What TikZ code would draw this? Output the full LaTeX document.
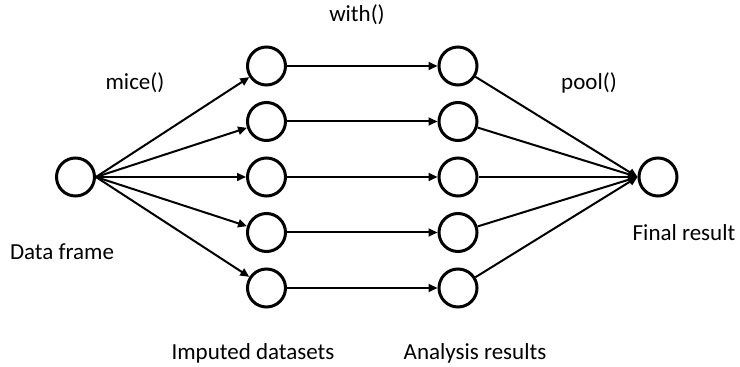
\documentclass[tikz,border=0pt]{standalone}
\usepackage{fontspec}
\setmainfont{Carlito}
\usetikzlibrary{arrows.meta}
\begin{document}
\begin{tikzpicture}[x=1pt,y=1pt,
  ring/.style={circle,draw=black,line width=3pt,minimum size=38pt,inner sep=0pt},
  lbl/.style={font=\fontsize{23}{27}\selectfont,inner sep=0pt},
  conn/.style={line width=2pt,-{Triangle[length=9pt,width=8pt]}},
  plain/.style={line width=2pt}]
\useasboundingbox (0,0) rectangle (740,367);
\node[ring] (df) at (75.5,190) {};
\foreach \i/\y in {1/301,2/245.5,3/190,4/134.5,5/79}{
  \node[ring] (a\i) at (266.5,\y) {};
  \node[ring] (b\i) at (458,\y) {};
}
\node[ring] (fin) at (658,190) {};
\foreach \i in {1,...,5}{
  \draw[conn] (df.east) -- (a\i);
  \draw[conn] (a\i) -- (b\i);
  \draw[conn] (b\i) -- (fin.west);
}
\node[lbl] (with) at (357,352) {with()};
\node[lbl] (mice) at (135,284) {mice()};
\node[lbl] (pool) at (589,284) {pool()};
\node[lbl] (dfl) at (62,115) {Data frame};
\node[lbl] (finl) at (684,134) {Final result};
\node[lbl] (imp) at (253,14) {Imputed datasets};
\node[lbl] (ana) at (475,14) {Analysis results};
\end{tikzpicture}
\end{document}
